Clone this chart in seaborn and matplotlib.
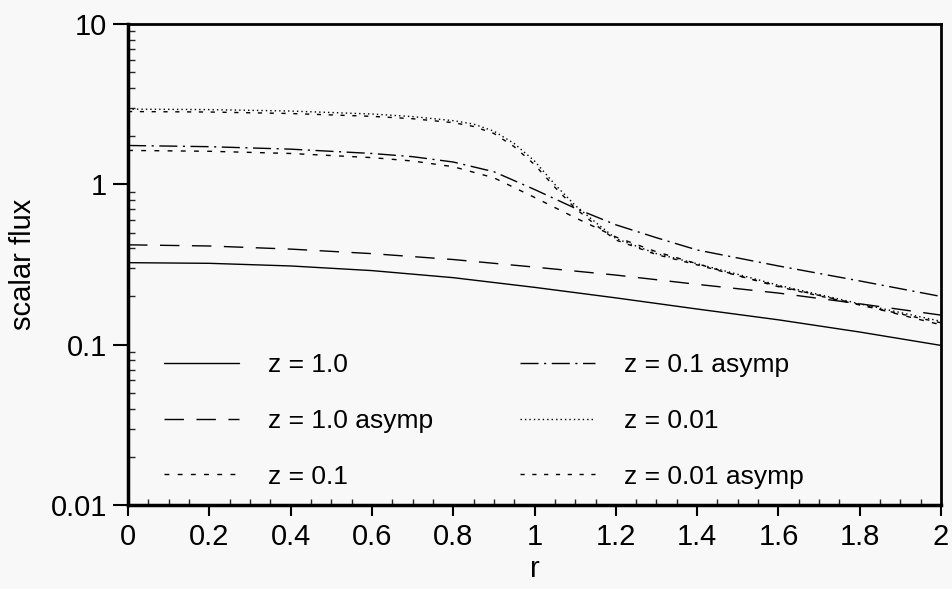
import numpy as np
import pandas as pd
import matplotlib
matplotlib.use("Agg")
import matplotlib.pyplot as plt
import seaborn as sns
from matplotlib.ticker import FixedLocator, MultipleLocator, LogLocator, NullFormatter

# ---- data ----
r_z1 = [0.0, 0.2, 0.4, 0.6, 0.8, 1.0, 1.2, 1.4, 1.6, 1.8, 2.0]
f_z1 = [0.325, 0.322, 0.31, 0.29, 0.262, 0.228, 0.196, 0.167, 0.143, 0.12, 0.099]

r_z1a = [0.0, 0.2, 0.4, 0.6, 0.8, 1.0, 1.2, 1.4, 1.6, 1.8, 2.0]
f_z1a = [0.42, 0.413, 0.395, 0.37, 0.34, 0.305, 0.272, 0.238, 0.21, 0.18, 0.153]

r_z01 = [0.0, 0.2, 0.4, 0.6, 0.7, 0.8, 0.9, 1.0, 1.1, 1.2, 1.3, 1.4, 1.5, 1.6, 1.8, 2.0]
f_z01 = [1.63, 1.61, 1.56, 1.47, 1.40, 1.29, 1.10, 0.83, 0.62, 0.47, 0.38, 0.32, 0.27, 0.232, 0.178, 0.133]

r_z01a = [0.0, 0.2, 0.4, 0.6, 0.7, 0.8, 0.9, 1.0, 1.1, 1.2, 1.3, 1.4, 1.6, 1.8, 2.0]
f_z01a = [1.75, 1.72, 1.66, 1.56, 1.49, 1.38, 1.20, 0.93, 0.71, 0.56, 0.465, 0.39, 0.31, 0.25, 0.20]

r_z001 = [0.0, 0.2, 0.4, 0.6, 0.7, 0.8, 0.85, 0.9, 0.95, 1.0, 1.05, 1.1, 1.15, 1.2, 1.3, 1.4, 1.5, 1.6, 1.8, 2.0]
f_z001 = [2.95, 2.93, 2.87, 2.75, 2.65, 2.5, 2.38, 2.15, 1.8, 1.4, 1.0, 0.74, 0.58, 0.46, 0.37, 0.32, 0.275, 0.235, 0.18, 0.14]

r_z001a = [0.0, 0.2, 0.4, 0.6, 0.7, 0.8, 0.85, 0.9, 0.95, 1.0, 1.05, 1.1, 1.15, 1.2, 1.3, 1.4, 1.5, 1.6, 1.8, 2.0]
f_z001a = [2.85, 2.83, 2.77, 2.66, 2.57, 2.43, 2.3, 2.08, 1.72, 1.33, 0.96, 0.71, 0.56, 0.45, 0.365, 0.315, 0.27, 0.23, 0.177, 0.137]

labels = ["z = 1.0", "z = 1.0 asymp", "z = 0.1", "z = 0.1 asymp", "z = 0.01", "z = 0.01 asymp"]
series = [(r_z1, f_z1), (r_z1a, f_z1a), (r_z01, f_z01), (r_z01a, f_z01a), (r_z001, f_z001), (r_z001a, f_z001a)]

x_ticks = [0, 0.2, 0.4, 0.6, 0.8, 1, 1.2, 1.4, 1.6, 1.8, 2]
x_ticklabels = ["0", "0.2", "0.4", "0.6", "0.8", "1", "1.2", "1.4", "1.6", "1.8", "2"]
y_ticks = [0.01, 0.1, 1, 10]
y_ticklabels = ["0.01", "0.1", "1", "10"]

# ---- styling ----
dash_patterns = [None, (14, 9), (3.5, 6), (13, 4, 1.5, 4), (1, 2.2), (3, 5.5)]

sns.set_theme(style="white")
bg = "#f8f8f8"
plt.rcParams["font.family"] = ["Liberation Sans", "DejaVu Sans"]

fig = plt.figure(figsize=(9.52, 5.89), dpi=100, facecolor=bg)
ax = fig.add_axes([0.1345, 0.1426, 0.854, 0.8164])
ax.set_facecolor(bg)

for (rv, fv), lab, dp in zip(series, labels, dash_patterns):
    df = pd.DataFrame({"r": rv, "flux": fv})
    sns.lineplot(data=df, x="r", y="flux", ax=ax, color="black", lw=1.0,
                 label=lab, estimator=None, sort=False)
    line = ax.lines[-1]
    if dp is not None:
        line.set_linestyle((0, dp))

ax.set_yscale("log")
ax.set_xlim(0, 2)
ax.set_ylim(0.01, 10)

ax.xaxis.set_major_locator(FixedLocator(x_ticks))
ax.set_xticklabels(x_ticklabels)
ax.xaxis.set_minor_locator(MultipleLocator(0.05))
ax.yaxis.set_major_locator(FixedLocator(y_ticks))
ax.set_yticklabels(y_ticklabels)
ax.yaxis.set_minor_locator(LogLocator(base=10, subs=np.arange(2, 10)))
ax.yaxis.set_minor_formatter(NullFormatter())

ax.tick_params(axis="both", which="major", labelsize=21, color="black", width=1.5, labelcolor="black")
ax.tick_params(axis="x", which="major", direction="out", length=8, pad=5, bottom=True)
ax.tick_params(axis="x", which="minor", direction="in", length=4, width=1.0, bottom=True)
ax.tick_params(axis="y", which="major", direction="out", length=11, pad=4, left=True)
ax.tick_params(axis="y", which="minor", direction="in", length=5, width=1.0, left=True)

for sp in ax.spines.values():
    sp.set_color("black")
    sp.set_linewidth(2.0)
ax.spines["left"].set_linewidth(2.5)
ax.spines["bottom"].set_linewidth(2.5)

ax.set_xlabel("r", fontsize=21, color="black", labelpad=3)
ax.set_ylabel("scalar flux", fontsize=21, color="black", labelpad=10)

leg = ax.legend(ncol=2, loc="lower left", bbox_to_anchor=(0.031, 0.012), frameon=False,
                fontsize=19, handlelength=2.85, handletextpad=1.1, columnspacing=3.3,
                labelspacing=1.2, borderaxespad=0)
for t in leg.get_texts():
    t.set_color("black")

fig.savefig("out.png", dpi=100, facecolor=bg)
